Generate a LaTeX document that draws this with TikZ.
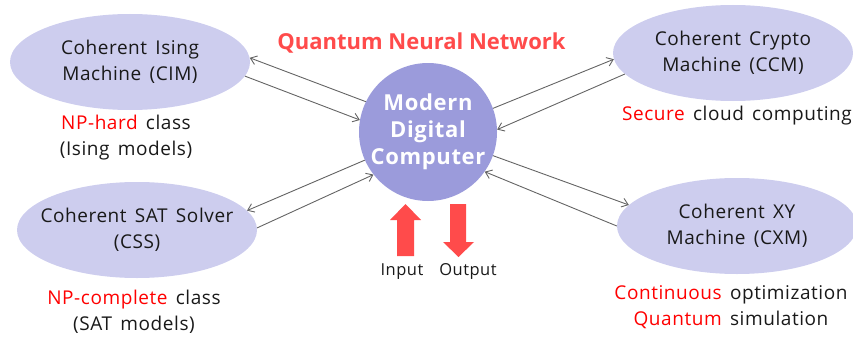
\documentclass[tikz,border=0pt]{standalone}
\usepackage{fontspec}
\setmainfont{Open Sans}
% body text is set slightly tracked and with wider word spaces
\newfontfamily\widefont{Open Sans}[LetterSpace=3,WordSpace=1.5]
\usetikzlibrary{shapes.geometric,arrows.meta}
\definecolor{boxfill}{RGB}{205,205,238}
\definecolor{hubfill}{RGB}{155,155,219}
\definecolor{hot}{RGB}{255,0,0}
\definecolor{titlered}{RGB}{255,75,75}
\definecolor{wire}{RGB}{100,100,100}
\definecolor{ink}{RGB}{25,25,25}
\newcommand{\hl}[1]{\textcolor{hot}{#1}}

\begin{document}
\begin{tikzpicture}[x=1pt,y=-1pt,
  machine/.style={ellipse, fill=boxfill, inner xsep=-25pt, inner ysep=0pt,
    minimum width=240pt, minimum height=96pt, align=center, text=ink,
    font=\widefont\fontsize{19}{26}\selectfont},
  hub/.style={circle, fill=hubfill, minimum size=138pt, inner sep=0pt,
    align=center, text=white, font=\widefont\fontsize{22}{27}\selectfont\bfseries},
  note/.style={align=center, text=ink, font=\widefont\fontsize{19}{26}\selectfont},
  tag/.style={text=ink, font=\widefont\fontsize{16.5}{20}\selectfont},
  link/.style={draw=wire, line width=0.9pt, -{Straight Barb[length=6pt,width=9pt]}},
  bigarrow/.style={fill=titlered}]

\useasboundingbox (0,0) rectangle (853,337);

% central computer and the four coherent machines
\node[hub] (hub) at (428,132) {Modern\\Digital\\Computer};
\node[machine] (cim) at (130,62) {Coherent Ising\\Machine (CIM)};
\node[machine] (ccm) at (733,53) {Coherent Crypto\\Machine (CCM)};
\node[machine] (css) at (137,230) {Coherent SAT Solver\\(CSS)};
\node[machine] (cxm) at (737,226) {Coherent XY\\Machine (CXM)};

% title
\node[anchor=base, text=titlered, font=\fontsize{22}{26}\selectfont\bfseries]
  (title) at (421.5,49) {Quantum Neural Network};

% application notes
\node[note] (cimnote) at (126,137.5) {\hl{NP-hard} class\\(Ising models)};
\node[note, anchor=base] (ccmnote) at (737,120) {\hl{Secure} cloud computing};
\node[note] (cssnote) at (134,311.5) {\hl{NP-complete} class\\(SAT models)};
\node[note] (cxmnote) at (731,307.5) {\hl{Continuous} optimization\\\hl{Quantum} simulation};

% two-way links between the computer and each machine
\draw[link] (hub.154.5) -- (cim.2);
\draw[link] (cim.-7) -- (hub.170);
\draw[link] (hub.20) -- (ccm.183);
\draw[link] (ccm.191) -- (hub.2);
\draw[link] (hub.204) -- (css.10);
\draw[link] (css.1) -- (hub.218);
\draw[link] (hub.340) -- (cxm.169);
\draw[link] (cxm.180) -- (hub.325);

% input / output block arrows
\fill[bigarrow] (397,256) -- (397,220) -- (390,220) -- (405.5,204) -- (421,220)
  -- (414,220) -- (414,256) -- cycle;
\fill[bigarrow] (450,204) -- (466,204) -- (466,242) -- (474,242) -- (458.5,257)
  -- (443,242) -- (450,242) -- cycle;
\node[tag, anchor=base] (inlabel) at (402,275) {Input};
\node[tag, anchor=base] (outlabel) at (468,275) {Output};
\end{tikzpicture}
\end{document}
